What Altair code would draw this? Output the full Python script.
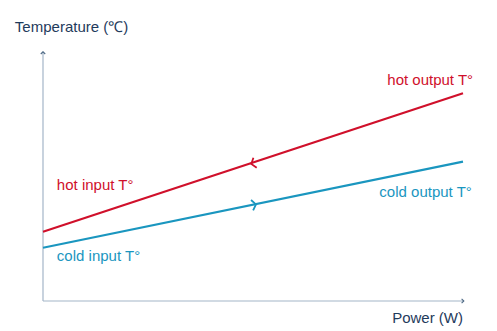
import altair as alt
import pandas as pd

# ---- data ----
power = [0, 100]
hot_temp = [27.6, 82.8]
cold_temp = [21.2, 55.5]

series_names = ["hot", "cold"]
series_colors = ["#d0102b", "#1a96bf"]

arrow_series = ["hot", "cold"]
arrow_power = [49.6, 50.7]
arrow_temp = [54.6, 38.5]
arrow_dir = ["left", "right"]
arrow_angle = [341.7, 348.4]

label_text_left = ["hot input T°", "cold input T°", "Temperature (℃)"]
label_x_left = [3.3, 3.3, -6.7]
label_y_left = [44.2, 15.9, 107.2]
label_color_left = ["#d0102b", "#1a96bf", "#1f3b5c"]

label_text_right = ["hot output T°", "cold output T°", "Power (W)"]
label_x_right = [102.4, 102.1, 100.0]
label_y_right = [86.1, 41.4, -8.8]
label_color_right = ["#d0102b", "#1a96bf", "#1f3b5c"]

axis_color = "#a3b5c8"
FONT = "Liberation Sans"

# ---- tables ----
lines = pd.DataFrame(
    {
        "power": power * 2,
        "temp": hot_temp + cold_temp,
        "series": [series_names[0]] * 2 + [series_names[1]] * 2,
    }
)
arrows = pd.DataFrame(
    {
        "power": arrow_power,
        "temp": arrow_temp,
        "series": arrow_series,
        "dir": arrow_dir,
        "angle": arrow_angle,
    }
)
left_labels = pd.DataFrame(
    {"text": label_text_left, "x": label_x_left, "y": label_y_left, "c": label_color_left}
)
right_labels = pd.DataFrame(
    {"text": label_text_right, "x": label_x_right, "y": label_y_right, "c": label_color_right}
)
x_axis = pd.DataFrame({"x": [0], "x2": [100.2], "y": [0]})
y_axis = pd.DataFrame({"x": [0], "y": [0], "y2": [99.3]})
x_tip = pd.DataFrame({"x": [100.2], "y": [0]})
y_tip = pd.DataFrame({"x": [0], "y": [99.3]})

xs = alt.Scale(domain=[0, 100], nice=False, zero=False)
ys = alt.Scale(domain=[0, 100], nice=False, zero=False)
color_scale = alt.Scale(domain=series_names, range=series_colors)

line_layer = (
    alt.Chart(lines)
    .mark_line(strokeWidth=2.2, clip=False)
    .encode(
        x=alt.X("power:Q", scale=xs, axis=None),
        y=alt.Y("temp:Q", scale=ys, axis=None),
        color=alt.Color("series:N", scale=color_scale, legend=None),
        detail="series:N",
    )
)

arrow_layer = (
    alt.Chart(arrows)
    .mark_point(filled=False, size=110, strokeWidth=1.8, opacity=1)
    .encode(
        x=alt.X("power:Q", scale=xs, axis=None),
        y=alt.Y("temp:Q", scale=ys, axis=None),
        stroke=alt.Stroke("series:N", scale=color_scale, legend=None),
        shape=alt.Shape(
            "dir:N",
            scale=alt.Scale(
                domain=["left", "right"],
                range=["M0.75,-1L0,0L0.75,1", "M-0.75,-1L0,0L-0.75,1"],
            ),
            legend=None,
        ),
        angle=alt.Angle("angle:Q", scale=None),
    )
)

xaxis_layer = (
    alt.Chart(x_axis)
    .mark_rule(color=axis_color, strokeWidth=1.2, clip=False)
    .encode(
        x=alt.X("x:Q", scale=xs, axis=None),
        x2="x2:Q",
        y=alt.Y("y:Q", scale=ys, axis=None),
    )
)
yaxis_layer = (
    alt.Chart(y_axis)
    .mark_rule(color=axis_color, strokeWidth=1.2, clip=False)
    .encode(
        x=alt.X("x:Q", scale=xs, axis=None),
        y=alt.Y("y:Q", scale=ys, axis=None),
        y2="y2:Q",
    )
)
xtip_layer = (
    alt.Chart(x_tip)
    .mark_point(shape="M-1,-1L0,0L-1,1", size=20, filled=False, stroke="#4f6a86",
                strokeWidth=1.1, opacity=1, clip=False)
    .encode(x=alt.X("x:Q", scale=xs, axis=None), y=alt.Y("y:Q", scale=ys, axis=None))
)
ytip_layer = (
    alt.Chart(y_tip)
    .mark_point(shape="M-1,1L0,0L1,1", size=20, filled=False, stroke="#4f6a86",
                strokeWidth=1.1, opacity=1, clip=False)
    .encode(x=alt.X("x:Q", scale=xs, axis=None), y=alt.Y("y:Q", scale=ys, axis=None))
)

left_text = (
    alt.Chart(left_labels)
    .mark_text(align="left", baseline="alphabetic", font=FONT, fontSize=15, clip=False)
    .encode(
        x=alt.X("x:Q", scale=xs, axis=None),
        y=alt.Y("y:Q", scale=ys, axis=None),
        text="text:N",
        color=alt.Color("c:N", scale=None),
    )
)
right_text = (
    alt.Chart(right_labels)
    .mark_text(align="right", baseline="alphabetic", font=FONT, fontSize=15, clip=False)
    .encode(
        x=alt.X("x:Q", scale=xs, axis=None),
        y=alt.Y("y:Q", scale=ys, axis=None),
        text="text:N",
        color=alt.Color("c:N", scale=None),
    )
)

chart = (
    alt.layer(
        xaxis_layer, yaxis_layer, xtip_layer, ytip_layer,
        line_layer, arrow_layer, left_text, right_text,
    )
    .resolve_scale(color="independent")
    .properties(
        width=420,
        height=251,
        padding={"left": 43, "top": 50, "right": 34, "bottom": 30},
        autosize=alt.AutoSizeParams(type="none"),
        background="white",
    )
    .configure_view(stroke=None)
)

chart.save("out.html", embed_options={"renderer": "svg", "actions": False})
